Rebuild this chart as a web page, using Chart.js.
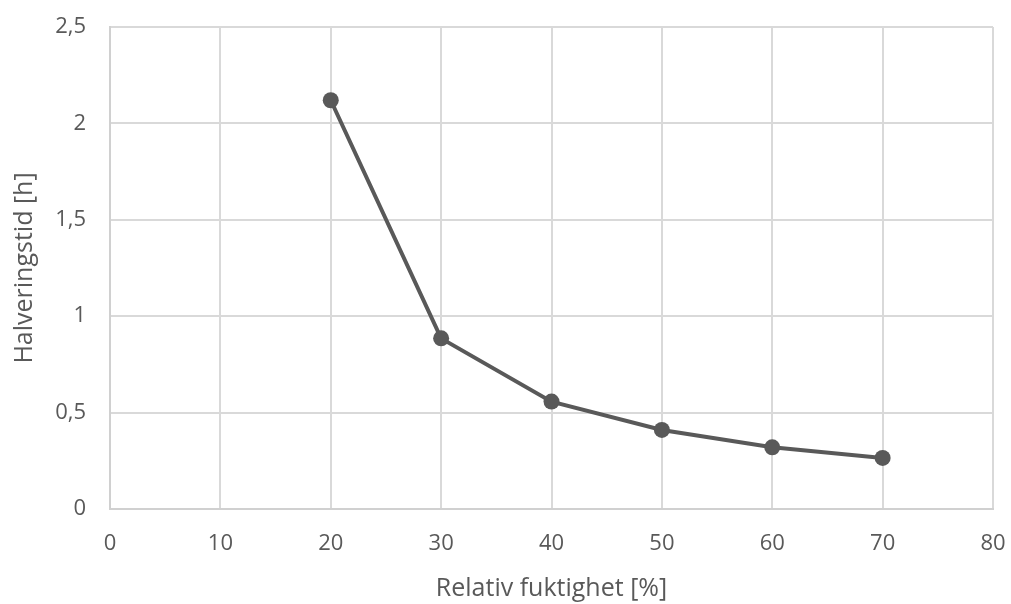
<!DOCTYPE html>
<html>
<head>
<meta charset="utf-8">
<script src="https://cdn.jsdelivr.net/npm/chart.js@4/dist/chart.umd.min.js"></script>
<style>
  html, body { margin: 0; padding: 0; background: #fff; }
  #wrap { width: 1011px; height: 604px; }
</style>
</head>
<body>
<div id="wrap"><canvas id="grafHalvering" width="1011" height="604"></canvas></div>
<script>
// Halveringstid mot relativ fuktighet
const fuktighet = [20, 30, 40, 50, 60, 70];
const halveringstid = [2.12, 0.885, 0.557, 0.41, 0.32, 0.265];
const xTicks = [0, 10, 20, 30, 40, 50, 60, 70, 80];
const yTicks = [0, 0.5, 1, 1.5, 2, 2.5];

const GRA_TEXT = "#595959";
const GRA_RUTNAT = "#d9d9d9";
const FONT = "'Open Sans', 'Liberation Sans', sans-serif";

const punkter = fuktighet.map((x, i) => ({ x: x, y: halveringstid[i] }));

// komma som decimaltecken
function formatKomma(v) {
    return String(v).replace(".", ",");
}

const ctx = document.getElementById("grafHalvering").getContext("2d");
new Chart(ctx, {
    type: "scatter",
    data: {
        datasets: [{
            data: punkter,
            showLine: true,
            borderColor: GRA_TEXT,
            backgroundColor: GRA_TEXT,
            borderWidth: 4,
            pointRadius: 8,
            pointHoverRadius: 8,
            pointBorderWidth: 0,
            tension: 0
        }]
    },
    options: {
        responsive: false,
        animation: false,
        layout: { padding: { top: 27, right: 18, left: 0, bottom: 0 } },
        plugins: { legend: { display: false }, tooltip: { enabled: false } },
        scales: {
            x: {
                type: "linear",
                min: 0, max: 80,
                afterBuildTicks: s => { s.ticks = xTicks.map(v => ({ value: v })); },
                // fast höjd, ingen extra marginal för etiketterna i kanterna
                afterFit: s => { s.height = 604 - 509; s.paddingLeft = 0; s.paddingRight = 0; },
                grid: { color: GRA_RUTNAT, lineWidth: 2, drawTicks: false },
                border: { color: "#d0d0d0", width: 2 },
                ticks: { color: GRA_TEXT, font: { family: FONT, size: 22 }, padding: 22 },
                title: { display: true, text: "Relativ fuktighet [%]", color: GRA_TEXT,
                         font: { family: FONT, size: 25 }, padding: { top: 0, bottom: 0 } }
            },
            y: {
                type: "linear",
                min: 0, max: 2.5,
                afterBuildTicks: s => { s.ticks = yTicks.map(v => ({ value: v })); },
                afterFit: s => { s.width = 110; s.paddingTop = 0; s.paddingBottom = 0; },
                grid: { color: GRA_RUTNAT, lineWidth: 2, drawTicks: false },
                border: { color: "#d0d0d0", width: 2 },
                ticks: { color: GRA_TEXT, font: { family: FONT, size: 22 }, padding: 24,
                         callback: v => formatKomma(v) },
                title: { display: true, text: "Halveringstid [h]", color: GRA_TEXT,
                         font: { family: FONT, size: 25 }, padding: { top: 10, bottom: 0 } }
            }
        }
    }
});
</script>
</body>
</html>
